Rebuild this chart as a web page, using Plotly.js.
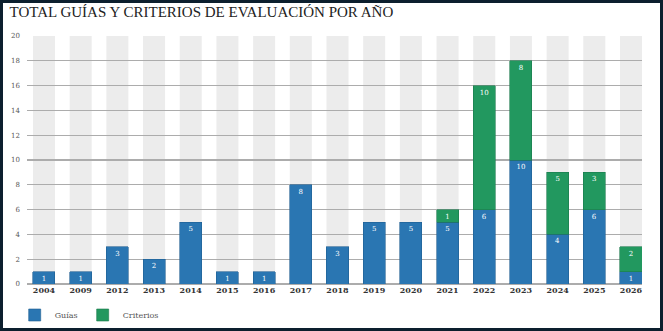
<!DOCTYPE html>
<html><head><meta charset="utf-8">
<script src="https://cdn.plot.ly/plotly-3.0.1.min.js"></script>
<style>
html,body{margin:0;padding:0;}
#wrap{position:relative;width:663px;height:331px;background:#0c1f2e;overflow:hidden;}
#chart{position:absolute;left:3px;top:3px;width:657px;height:325px;background:#fff;}
</style></head>
<body><div id="wrap"><div id="chart"></div></div>
<script>
var years = ['2004','2009','2012','2013','2014','2015','2016','2017','2018','2019','2020','2021','2022','2023','2024','2025','2026'];
var guias = [1,1,3,2,5,1,1,8,3,5,5,5,6,10,4,6,1];
var criterios = [0,0,0,0,0,0,0,0,0,0,0,1,10,8,5,3,2];
var yMax = 20;
var yTicks = [0,2,4,6,8,10,12,14,16,18,20];

var serif = 'DejaVu Serif, serif';
var blue = '#2a76b2', green = '#22985f';

function lbl(a){ return a.map(function(v){ return v>0 ? String(v) : ''; }); }
function nz(a){ return a.map(function(v){ return v>0 ? v : null; }); }

var traces = [
  {type:'bar', name:'Guías', x:years, y:nz(guias), text:lbl(guias),
   marker:{color:blue, line:{color:'#1f5f92', width:0.6}},
   textposition:'inside', insidetextanchor:'end', textangle:0, constraintext:'none',
   textfont:{family:serif, size:7, color:'#ffffff'}, hoverinfo:'none', width:0.6},
  {type:'bar', name:'Criterios', x:years, y:nz(criterios), text:lbl(criterios),
   marker:{color:green, line:{color:'#1b7a4c', width:0.6}},
   textposition:'inside', insidetextanchor:'end', textangle:0, constraintext:'none',
   textfont:{family:serif, size:7, color:'#ffffff'}, hoverinfo:'none', width:0.6}
];

var shapes = years.map(function(c, i){
  return {type:'rect', xref:'x', yref:'y', x0:i-0.3, x1:i+0.3, y0:0, y1:yMax,
          fillcolor:'#ececec', line:{width:0}, layer:'below'};
});

var layout = {
  width:657, height:325,
  margin:{l:24, r:18, t:33, b:44, pad:0},
  paper_bgcolor:'#ffffff', plot_bgcolor:'#ffffff',
  barmode:'stack', bargap:0.4,
  showlegend:true,
  title:{text:'TOTAL GUÍAS Y CRITERIOS DE EVALUACIÓN POR AÑO', x:0.01, xanchor:'left', y:0.99, yanchor:'top',
         font:{family:'Liberation Serif, serif', size:15, color:'#222222'}},
  xaxis:{type:'category', range:[-0.463, 16.3], showgrid:false, zeroline:false, showline:false,
         ticks:'', tickfont:{family:serif, size:8, color:'#333333', weight:'bold'}, fixedrange:true},
  yaxis:{range:[0, yMax], tickvals:yTicks, showgrid:true, gridcolor:'#acacac', gridwidth:1.3,
         zeroline:true, zerolinecolor:'#acacac', zerolinewidth:1.3, showline:false, ticks:'',
         ticklabelstandoff:6,
         tickfont:{family:serif, size:7, color:'#555555'}, fixedrange:true},
  legend:{orientation:'h', x:-0.02, xanchor:'left', yref:'container', y:0.04, yanchor:'middle',
          font:{family:serif, size:8, color:'#555555'}, itemwidth:30, traceorder:'normal'},
  shapes:shapes
};

Plotly.newPlot('chart', traces, layout, {displayModeBar:false, staticPlot:true});
</script></body></html>
